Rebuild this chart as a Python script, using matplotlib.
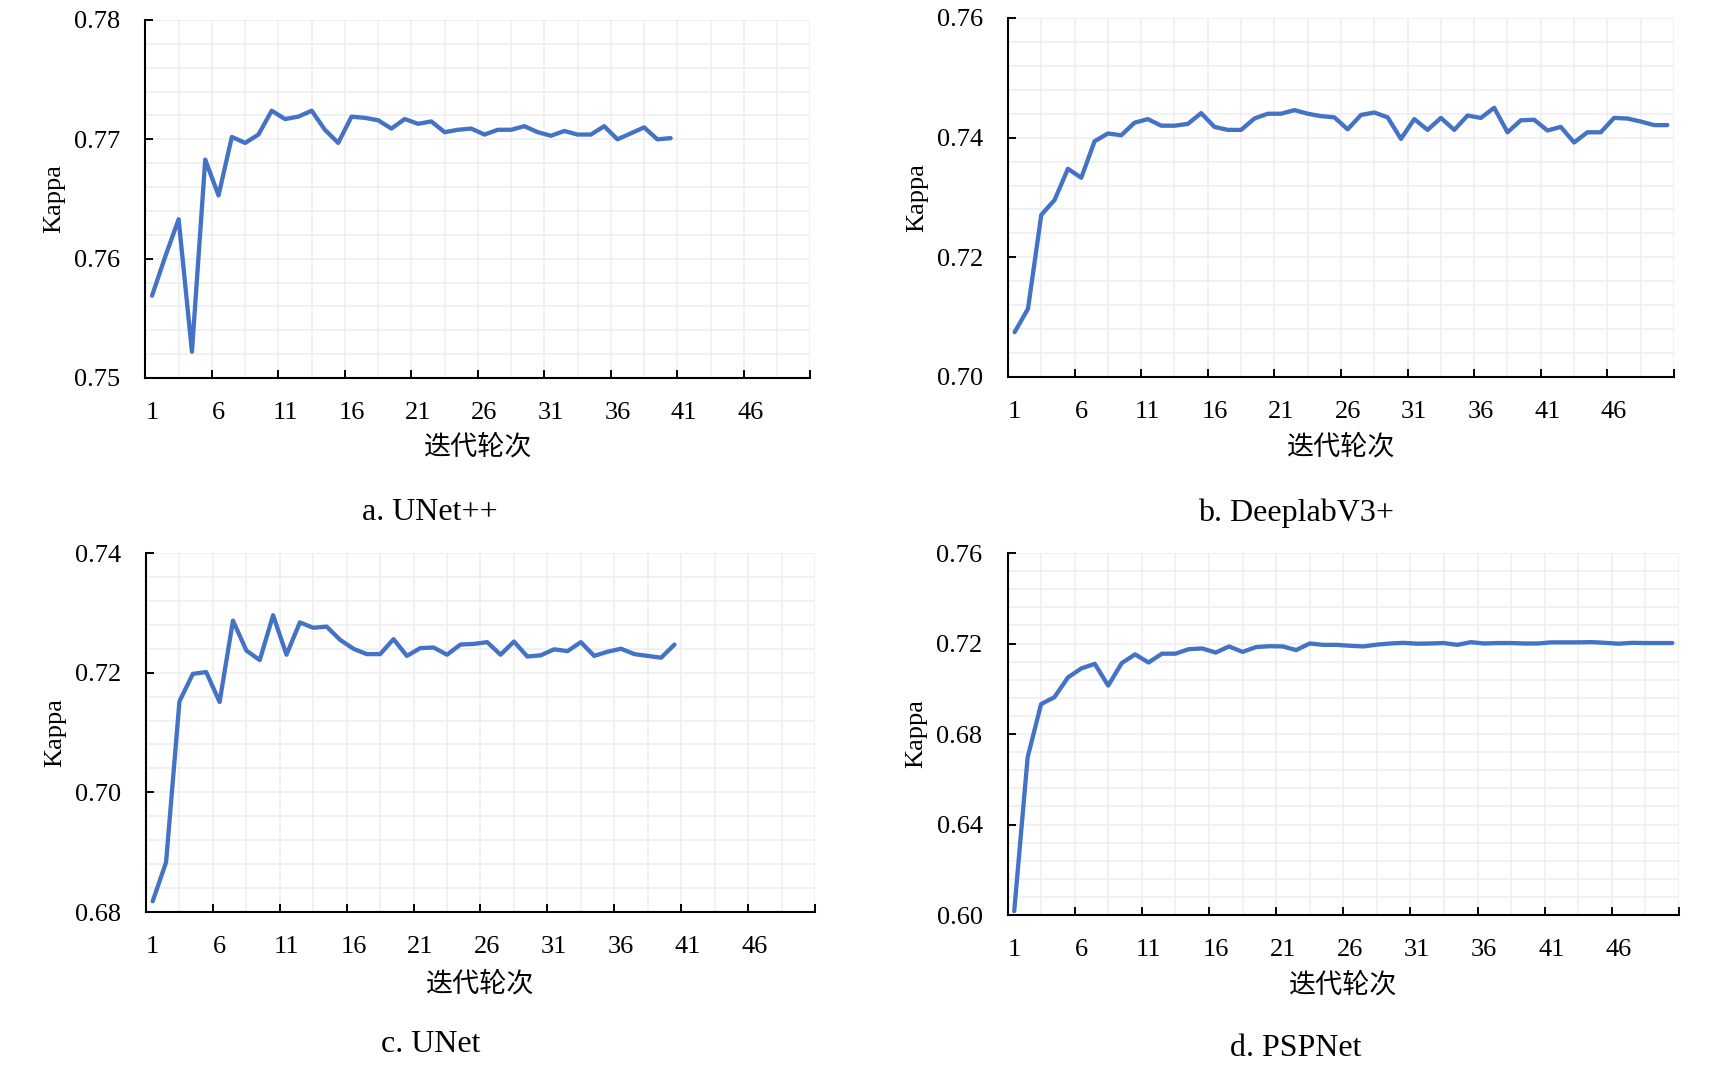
import matplotlib
matplotlib.use("Agg")
import matplotlib.pyplot as plt
import numpy as np
from matplotlib.ticker import FixedLocator, MultipleLocator, FormatStrFormatter

# ---------------- data ----------------
epochs_a = list(range(1, 41))
kappa_unetpp = [0.7569, 0.7602, 0.7633, 0.7522, 0.7683, 0.7653, 0.7702, 0.7697, 0.7704, 0.7724,
                0.7717, 0.7719, 0.7724, 0.7708, 0.7697, 0.7719, 0.7718, 0.7716, 0.7709, 0.7717,
                0.7713, 0.7715, 0.7706, 0.7708, 0.7709, 0.7704, 0.7708, 0.7708, 0.7711, 0.7706,
                0.7703, 0.7707, 0.7704, 0.7704, 0.7711, 0.7700, 0.7705, 0.7710, 0.7700, 0.7701]

epochs_b = list(range(1, 51))
kappa_deeplab = [0.7075, 0.7114, 0.7271, 0.7296, 0.7348, 0.7333, 0.7394, 0.7407, 0.7404, 0.7425,
                 0.7431, 0.7420, 0.7420, 0.7423, 0.7441, 0.7418, 0.7413, 0.7413, 0.7432, 0.7440,
                 0.7440, 0.7446, 0.7440, 0.7436, 0.7434, 0.7414, 0.7438, 0.7442, 0.7434, 0.7398,
                 0.7431, 0.7413, 0.7433, 0.7413, 0.7437, 0.7433, 0.7450, 0.7409, 0.7429, 0.7430,
                 0.7412, 0.7418, 0.7392, 0.7409, 0.7409, 0.7433, 0.7432, 0.7427, 0.7421, 0.7421]

epochs_c = list(range(1, 41))
kappa_unet = [0.6818, 0.6883, 0.7152, 0.7198, 0.7201, 0.7151, 0.7287, 0.7237, 0.7221, 0.7296,
              0.7230, 0.7284, 0.7275, 0.7277, 0.7255, 0.7240, 0.7231, 0.7231, 0.7256, 0.7228,
              0.7241, 0.7242, 0.7230, 0.7247, 0.7248, 0.7251, 0.7230, 0.7252, 0.7227, 0.7229,
              0.7239, 0.7236, 0.7251, 0.7228, 0.7235, 0.7240, 0.7231, 0.7228, 0.7225, 0.7247]

epochs_d = list(range(1, 51))
kappa_pspnet = [0.6017, 0.6697, 0.6932, 0.6963, 0.7050, 0.7090, 0.7110, 0.7014, 0.7113, 0.7152,
                0.7116, 0.7155, 0.7155, 0.7175, 0.7178, 0.7160, 0.7187, 0.7163, 0.7184, 0.7188,
                0.7187, 0.7171, 0.7200, 0.7194, 0.7194, 0.7190, 0.7187, 0.7195, 0.7200, 0.7203,
                0.7199, 0.7200, 0.7202, 0.7194, 0.7206, 0.7200, 0.7202, 0.7202, 0.7200, 0.7200,
                0.7205, 0.7205, 0.7205, 0.7206, 0.7203, 0.7199, 0.7203, 0.7202, 0.7202, 0.7202]

xtick_labels = [str(v) for v in range(1, 47, 5)]
captions = ["a. UNet++", "b. DeeplabV3+", "c. UNet", "d. PSPNet"]
xlabel_text = "迭代轮次"
ylabel_text = "Kappa"

# ---------------- style / layout ----------------
plt.rcParams['font.family'] = ['Liberation Serif', 'Noto Sans CJK SC', 'DejaVu Sans']

W, H = 1731, 1069
fig = plt.figure(figsize=(W / 100, H / 100), dpi=100)

panels = [
    dict(box=(145.4, 810.3, 20, 378), ylim=(0.75, 0.78), major=0.01, minor=0.002,
         x=epochs_a, y=kappa_unetpp, cap=(430, 513), xl=448),
    dict(box=(1008, 1674, 18, 377), ylim=(0.70, 0.76), major=0.02, minor=0.004,
         x=epochs_b, y=kappa_deeplab, cap=(1296, 513), xl=448),
    dict(box=(146, 815, 553, 912), ylim=(0.68, 0.74), major=0.02, minor=0.004,
         x=epochs_c, y=kappa_unet, cap=(431, 1045), xl=985),
    dict(box=(1007.5, 1679, 553, 915), ylim=(0.60, 0.76), major=0.04, minor=0.008,
         x=epochs_d, y=kappa_pspnet, cap=(1296, 1048), xl=986),
]

line_color = "#4472C4"
grid_color = "#EDEDED"

for p, cap in zip(panels, captions):
    L, R, T, B = p['box']
    ax = fig.add_axes([L / W, 1 - B / H, (R - L) / W, (B - T) / H])
    ax.set_xlim(0.5, 50.5)
    ax.set_ylim(*p['ylim'])

    # grid
    ax.set_axisbelow(True)
    ax.yaxis.set_major_locator(MultipleLocator(p['major']))
    ax.yaxis.set_minor_locator(MultipleLocator(p['minor']))
    ax.yaxis.set_major_formatter(FormatStrFormatter('%.2f'))
    ax.grid(True, axis='y', which='both', color=grid_color, lw=1.1, zorder=0)
    for gx in np.arange(3.0, 50.6, 2.5):
        ax.axvline(gx, color=grid_color, lw=1.1, zorder=0)

    ax.plot(p['x'], p['y'], color=line_color, lw=3.1, solid_joinstyle='round',
            solid_capstyle='round', zorder=3, clip_on=False)

    # spines
    for s in ('top', 'right'):
        ax.spines[s].set_visible(False)
    for s in ('left', 'bottom'):
        ax.spines[s].set_linewidth(1.5)
        ax.spines[s].set_color('black')
        ax.spines[s].set_zorder(4)

    # x ticks: labels at category centres, tick marks between groups
    ax.xaxis.set_major_locator(FixedLocator(list(range(1, 47, 5))))
    ax.set_xticklabels(xtick_labels)
    ax.xaxis.set_minor_locator(FixedLocator(list(np.arange(5.5, 51, 5))))
    ax.tick_params(axis='x', which='major', length=0, pad=17, labelsize=19)
    ax.tick_params(axis='x', which='minor', direction='in', length=6, width=1.4, color='black')
    ax.tick_params(axis='y', which='major', direction='in', length=6, width=1.4,
                   pad=18, labelsize=19, color='black')
    ax.tick_params(axis='y', which='minor', length=0)

    # axis labels
    ax.set_xlabel(xlabel_text, fontsize=19.5)
    ax.xaxis.label.set_va('center')
    ax.xaxis.set_label_coords(0.5, (B - p['xl']) / (B - T))
    ax.set_ylabel(ylabel_text, fontsize=19)
    ax.yaxis.label.set_va('center')
    ax.yaxis.label.set_ha('center')
    ax.yaxis.set_label_coords(-91 / (R - L), 0.5)

    fig.text(p['cap'][0] / W, 1 - p['cap'][1] / H, cap, ha='center', va='center', fontsize=23)

fig.savefig("out.png", dpi=100, facecolor='white')
